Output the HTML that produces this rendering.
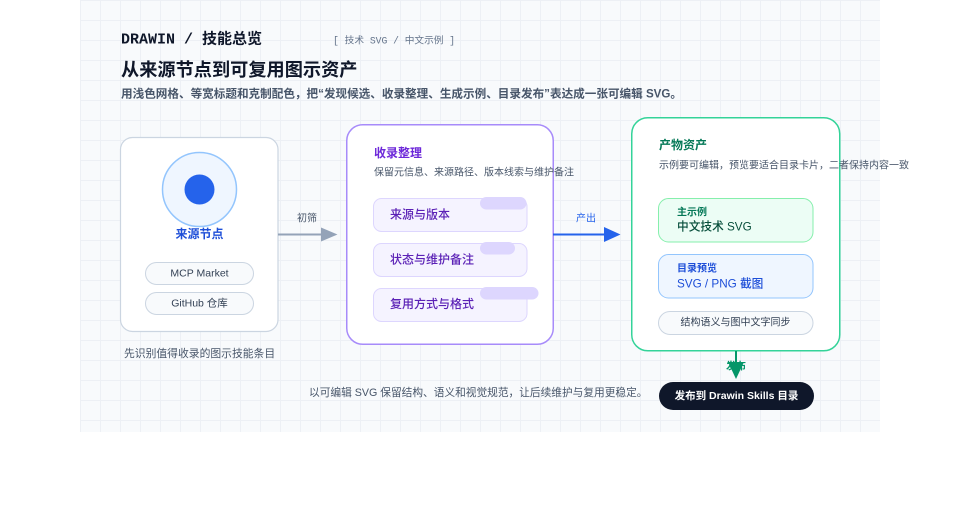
<!DOCTYPE html>
<html>
<head>
<meta charset="utf-8">
<style>
  html, body { margin: 0; padding: 0; background: #ffffff; }
  body { width: 960px; height: 520px; overflow: hidden; }
  svg { display: block; }
  .sans { font-family: "Liberation Sans", "Noto Sans CJK SC", sans-serif; }
  .mono { font-family: "Liberation Mono", "Noto Sans CJK SC", monospace; }
</style>
</head>
<body>
<svg width="960" height="520" viewBox="0 0 960 520" xmlns="http://www.w3.org/2000/svg">
  <defs>
    <pattern id="grid" x="0" y="0" width="20" height="20" patternUnits="userSpaceOnUse">
      <rect x="0" y="0" width="20" height="20" fill="#f8fafc"/>
      <rect x="0" y="0" width="1" height="20" fill="#edf0f5"/>
      <rect x="0" y="0" width="20" height="1" fill="#edf0f5"/>
    </pattern>
  </defs>

  <!-- background -->
  <rect x="0" y="0" width="960" height="520" fill="#ffffff"/>
  <rect x="80" y="0" width="800" height="432" fill="url(#grid)"/>

  <!-- header -->
  <text class="mono" x="121" y="40" dominant-baseline="central" font-size="15" font-weight="700" fill="#0f172a">DRAWIN / 技能总览</text>
  <text class="mono" x="333" y="41" dominant-baseline="central" font-size="9.7" fill="#64748b">[ 技术 SVG / 中文示例 ]</text>
  <text class="sans" x="121" y="70" dominant-baseline="central" font-size="18.2" font-weight="700" fill="#0f172a">从来源节点到可复用图示资产</text>
  <text class="sans" x="121" y="94" dominant-baseline="central" font-size="11.6" font-weight="600" fill="#475569">用浅色网格、等宽标题和克制配色，把“发现候选、收录整理、生成示例、目录发布”表达成一张可编辑 SVG。</text>

  <!-- left card -->
  <rect x="120.5" y="137.5" width="157.5" height="194" rx="12" fill="#ffffff" stroke="#cbd5e1" stroke-width="1.2"/>
  <circle cx="199.5" cy="189.5" r="37" fill="#eff6ff" stroke="#93c5fd" stroke-width="1.5"/>
  <circle cx="199.5" cy="189.5" r="15" fill="#2563eb"/>
  <text class="sans" x="199.5" y="234" text-anchor="middle" dominant-baseline="central" font-size="12" font-weight="700" fill="#1d4ed8">来源节点</text>
  <rect x="145.5" y="262.5" width="108" height="22" rx="11" fill="#f8fafc" stroke="#cbd5e1" stroke-width="1"/>
  <text class="sans" x="199.5" y="273.5" text-anchor="middle" dominant-baseline="central" font-size="10.5" fill="#334155">MCP Market</text>
  <rect x="145.5" y="292.5" width="108" height="22" rx="11" fill="#f8fafc" stroke="#cbd5e1" stroke-width="1"/>
  <text class="sans" x="199.5" y="303.5" text-anchor="middle" dominant-baseline="central" font-size="10.5" fill="#334155">GitHub 仓库</text>
  <text class="sans" x="124" y="354" dominant-baseline="central" font-size="10.8" fill="#475569">先识别值得收录的图示技能条目</text>

  <!-- arrow 1 -->
  <text class="sans" x="307" y="219" text-anchor="middle" dominant-baseline="central" font-size="10" fill="#475569">初筛</text>
  <line x1="278" y1="234.5" x2="323" y2="234.5" stroke="#94a3b8" stroke-width="2"/>
  <polygon points="321,227.5 337.5,234.5 321,241.5" fill="#94a3b8"/>

  <!-- middle card -->
  <rect x="346.75" y="124.75" width="206.5" height="219.5" rx="16" fill="#ffffff" stroke="#a78bfa" stroke-width="1.5"/>
  <text class="sans" x="374" y="153" dominant-baseline="central" font-size="12" font-weight="700" fill="#6d28d9">收录整理</text>
  <text class="sans" x="374" y="173" dominant-baseline="central" font-size="10" fill="#475569">保留元信息、来源路径、版本线索与维护备注</text>

  <rect x="373.5" y="198.5" width="153.5" height="33" rx="8" fill="#f5f3ff" stroke="#ddd6fe" stroke-width="1"/>
  <rect x="480" y="197" width="46.5" height="12.5" rx="6.25" fill="#ddd6fe"/>
  <text class="sans" x="390" y="214.5" dominant-baseline="central" font-size="12" font-weight="500" fill="#5b21b6">来源与版本</text>

  <rect x="373.5" y="243.5" width="153.5" height="33" rx="8" fill="#f5f3ff" stroke="#ddd6fe" stroke-width="1"/>
  <rect x="480" y="242" width="35" height="12.5" rx="6.25" fill="#ddd6fe"/>
  <text class="sans" x="390" y="259.5" dominant-baseline="central" font-size="12" font-weight="500" fill="#5b21b6">状态与维护备注</text>

  <rect x="373.5" y="288.5" width="153.5" height="33" rx="8" fill="#f5f3ff" stroke="#ddd6fe" stroke-width="1"/>
  <rect x="480" y="287" width="58.5" height="12.5" rx="6.25" fill="#ddd6fe"/>
  <text class="sans" x="390" y="304" dominant-baseline="central" font-size="12" font-weight="500" fill="#5b21b6">复用方式与格式</text>

  <!-- arrow 2 -->
  <text class="sans" x="586" y="219" text-anchor="middle" dominant-baseline="central" font-size="10" fill="#2563eb">产出</text>
  <line x1="553" y1="234.5" x2="606" y2="234.5" stroke="#2563eb" stroke-width="2"/>
  <polygon points="604,227 620.5,234.5 604,242" fill="#2563eb"/>

  <!-- right card -->
  <rect x="631.75" y="117.75" width="208" height="233" rx="16" fill="#ffffff" stroke="#34d399" stroke-width="1.5"/>
  <text class="sans" x="659" y="145" dominant-baseline="central" font-size="12" font-weight="700" fill="#047857">产物资产</text>
  <text class="sans" x="659" y="166" dominant-baseline="central" font-size="10" fill="#475569">示例要可编辑，预览要适合目录卡片，二者保持内容一致</text>

  <rect x="658.5" y="198.5" width="154.5" height="43.5" rx="10" fill="#ecfdf5" stroke="#86efac" stroke-width="1"/>
  <text class="sans" x="677" y="213" dominant-baseline="central" font-size="10" font-weight="600" fill="#047857">主示例</text>
  <text class="sans" x="677" y="227" dominant-baseline="central" font-size="11.7" font-weight="500" fill="#064e3b">中文技术 SVG</text>

  <rect x="658.5" y="254.5" width="154.5" height="43.5" rx="10" fill="#eff6ff" stroke="#93c5fd" stroke-width="1"/>
  <text class="sans" x="677" y="269" dominant-baseline="central" font-size="10" font-weight="600" fill="#1d4ed8">目录预览</text>
  <text class="sans" x="677" y="284" dominant-baseline="central" font-size="11.7" font-weight="500" fill="#1d4ed8">SVG / PNG 截图</text>

  <rect x="658.5" y="311.5" width="154.5" height="23" rx="11.5" fill="#f8fafc" stroke="#cbd5e1" stroke-width="1"/>
  <text class="sans" x="735.5" y="323" text-anchor="middle" dominant-baseline="central" font-size="10" fill="#334155">结构语义与图中文字同步</text>

  <!-- vertical arrow -->
  <text class="sans" x="736" y="367" text-anchor="middle" dominant-baseline="central" font-size="10" font-weight="700" fill="#059669">发布</text>
  <line x1="736" y1="351" x2="736" y2="364" stroke="#059669" stroke-width="2"/>
  <polygon points="728,362 744,362 736,379" fill="#059669"/>

  <!-- bottom -->
  <text class="sans" x="309" y="393" dominant-baseline="central" font-size="10.7" fill="#475569">以可编辑 SVG 保留结构、语义和视觉规范，让后续维护与复用更稳定。</text>
  <rect x="659" y="382" width="155" height="28" rx="14" fill="#0f172a"/>
  <text class="sans" x="736.5" y="396" text-anchor="middle" dominant-baseline="central" font-size="10.5" font-weight="700" fill="#ffffff">发布到 Drawin Skills 目录</text>
</svg>
</body>
</html>
